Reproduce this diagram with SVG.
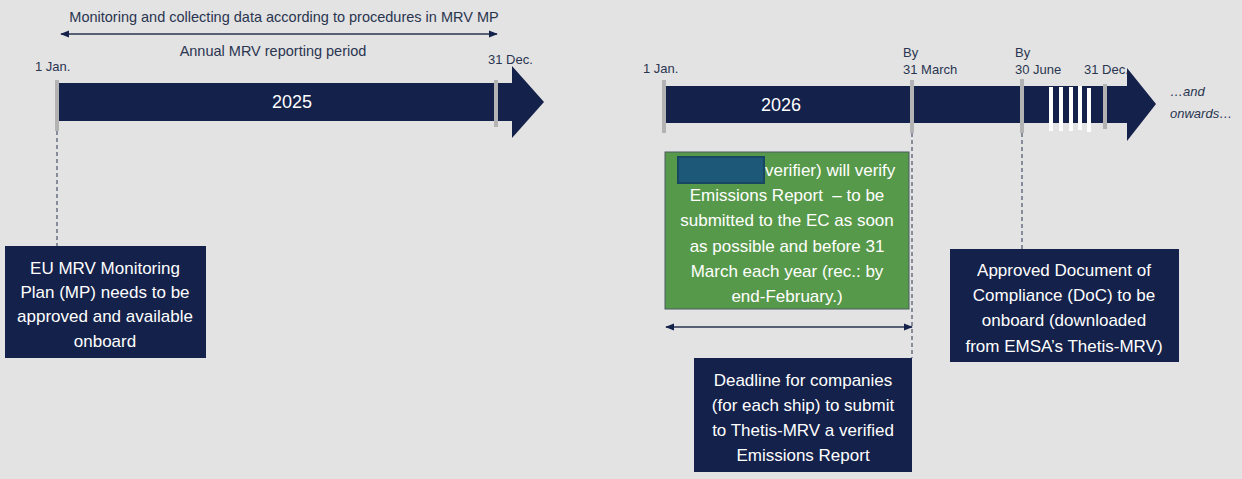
<svg xmlns="http://www.w3.org/2000/svg" width="1242" height="479" viewBox="0 0 1242 479">
<defs>
<style>
text{font-family:"Liberation Sans",Arial,sans-serif;}
.lbl{font-size:13px;fill:#2a3550;}
.top{font-size:14.5px;fill:#2a3550;}
.box{font-size:17px;fill:#ffffff;text-anchor:middle;}
.box.left{text-anchor:start;}
.yr{font-size:18px;fill:#ffffff;text-anchor:middle;}
.navy{fill:#14214a;}
.tick{fill:#b3b3b3;}
.stripe{fill:#ffffff;}
.dash{stroke:#2a3550;stroke-width:1;stroke-dasharray:4,3;fill:none;}
.conn{stroke:#2a3550;stroke-width:1.3;fill:none;marker-start:url(#ah);marker-end:url(#ah);}
</style>
<marker id="ah" viewBox="0 0 10 10" refX="9" refY="5" markerWidth="9" markerHeight="9" markerUnits="userSpaceOnUse" orient="auto-start-reverse">
<path d="M0,1 L10,5 L0,9 Z" fill="#14214a"/>
</marker>
</defs>
<rect width="1242" height="479" fill="#e3e3e3"/>

<g id="timeline-2025">
<path class="navy" d="M58,83 H512 V66 L544,102 L512,138 V121 H58 Z"/>
<rect class="tick" x="55" y="80" width="4" height="51"/>
<rect class="tick" x="494" y="80" width="4" height="47"/>
<text class="yr" x="292" y="108">2025</text>
<text class="lbl" x="35" y="71">1 Jan.</text>
<text class="lbl" x="488" y="64">31 Dec.</text>
<text class="top" x="273" y="56" text-anchor="middle">Annual MRV reporting period</text>
<text class="top" x="284" y="22" text-anchor="middle">Monitoring and collecting data according to procedures in MRV MP</text>
</g>

<g id="timeline-2026">
<path class="navy" d="M666,86 H1127 V68 L1156,104 L1127,141 V123 H666 Z"/>
<rect class="tick" x="662" y="80" width="4" height="53"/>
<rect class="tick" x="910" y="80" width="4" height="53"/>
<rect class="tick" x="1020" y="79" width="4" height="54"/>
<rect class="stripe" x="1049" y="87" width="4" height="44"/>
<rect class="stripe" x="1059" y="87" width="4" height="44"/>
<rect class="stripe" x="1069" y="87" width="4" height="44"/>
<rect class="stripe" x="1078" y="86" width="4" height="44"/>
<rect class="stripe" x="1087" y="88" width="4" height="44"/>
<rect class="tick" x="1103" y="84" width="4" height="45"/>
<text class="yr" x="781" y="111">2026</text>
<text class="lbl" x="643" y="73">1 Jan.</text>
<text class="lbl" x="903" y="57">By</text>
<text class="lbl" x="903" y="74">31 March</text>
<text class="lbl" x="1015" y="57">By</text>
<text class="lbl" x="1015" y="74">30 June</text>
<text class="lbl" x="1084" y="74">31 Dec.</text>
<text class="lbl" x="1170" y="96" font-style="italic" font-size="14">…and</text>
<text class="lbl" x="1170" y="118" font-style="italic" font-size="14">onwards…</text>
</g>

<g id="connectors">
<line class="conn" x1="61" y1="34" x2="497" y2="34"/>
<line class="conn" x1="666" y1="327" x2="912" y2="327"/>
<line class="dash" x1="57" y1="131" x2="57" y2="246"/>
<line class="dash" x1="912" y1="133" x2="912" y2="358"/>
<line class="dash" x1="1022" y1="133" x2="1022" y2="249"/>
</g>

<g id="node-mp">
<rect class="navy" x="5" y="246" width="201" height="112"/>
<text class="box" x="105" y="274">EU MRV Monitoring</text>
<text class="box" x="105" y="298">Plan (MP) needs to be</text>
<text class="box" x="105" y="322">approved and available</text>
<text class="box" x="105" y="347">onboard</text>
</g>

<g id="node-verify">
<rect x="665" y="152" width="244" height="157" fill="#57994a" stroke="#4a5a60" stroke-width="1"/>
<rect x="678" y="157" width="86" height="26" fill="#1d5878" stroke="#174761" stroke-width="2"/>
<text class="box left" x="765" y="176">verifier) will verify</text>
<text class="box" x="787" y="201" xml:space="preserve">Emissions Report  – to be</text>
<text class="box" x="787" y="226">submitted to the EC as soon</text>
<text class="box" x="787" y="252">as possible and before 31</text>
<text class="box" x="787" y="277">March each year (rec.: by</text>
<text class="box" x="787" y="302">end-February.)</text>
</g>

<g id="node-deadline">
<rect class="navy" x="694" y="358" width="218" height="114"/>
<text class="box" x="803" y="386">Deadline for companies</text>
<text class="box" x="803" y="411">(for each ship) to submit</text>
<text class="box" x="803" y="436">to Thetis-MRV a verified</text>
<text class="box" x="803" y="461">Emissions Report</text>
</g>

<g id="node-doc">
<rect class="navy" x="950" y="249" width="229" height="113"/>
<text class="box" x="1064" y="276">Approved Document of</text>
<text class="box" x="1064" y="301">Compliance (DoC) to be</text>
<text class="box" x="1064" y="326">onboard (downloaded</text>
<text class="box" x="1064" y="352">from EMSA’s Thetis-MRV)</text>
</g>
</svg>
